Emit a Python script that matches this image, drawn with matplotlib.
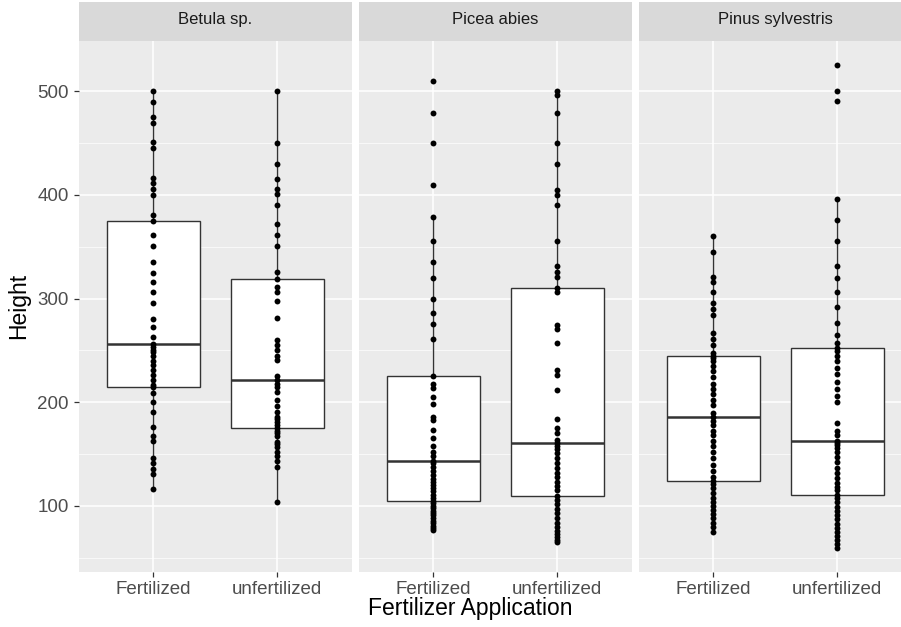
import numpy as np
import matplotlib
matplotlib.use("Agg")
import matplotlib.pyplot as plt
from matplotlib.ticker import MultipleLocator

plt.rcParams["font.family"] = ["Liberation Sans", "DejaVu Sans"]

species = ["Betula sp.", "Picea abies", "Pinus sylvestris"]
treatments = ["Fertilized", "unfertilized"]

# heights, one list per species x treatment
betula_fert = [116, 131, 136, 141, 146, 163, 167, 176, 191, 200, 209, 215,
               217, 221, 226, 231, 236, 240, 245, 248, 250, 253, 256,
               263, 273, 280, 296, 306, 316, 325, 335, 351, 361, 375,
               380, 400, 406, 411, 416, 445, 451, 469, 475, 489, 500]
betula_unfert = [104, 138, 143, 148, 152, 157, 160, 162, 167, 170, 172, 175,
                 178, 181, 184, 186, 191, 196, 202, 210, 215, 218, 221,
                 225, 241, 245, 250, 255, 260, 281, 298, 306, 311, 319,
                 326, 351, 361, 372, 390, 401, 406, 415, 430, 450, 500]
picea_fert = [77, 79, 81, 84, 86, 88, 91, 93, 95, 98, 100, 103, 105,
              108, 111, 114, 117, 120, 123, 126, 130, 134, 138, 141, 143,
              148, 152, 158, 166, 173, 183, 186, 198, 205, 214, 218, 225,
              261, 275, 286, 300, 320, 335, 355, 379, 409, 450, 479, 510]
picea_unfert = [65, 67, 70, 73, 76, 80, 84, 88, 93, 97, 102, 106, 110,
                115, 119, 123, 128, 132, 137, 141, 146, 151, 155, 158, 161,
                164, 170, 175, 184, 212, 226, 231, 257, 271, 274, 306, 310,
                321, 326, 331, 355, 390, 400, 405, 430, 450, 479, 496, 500]
pinus_fert = [75, 80, 84, 88, 92, 96, 100, 104, 108, 113, 117, 121, 124,
              128, 134, 140, 146, 152, 158, 163, 168, 172, 178, 182, 186,
              190, 197, 202, 208, 213, 218, 224, 230, 235, 240, 243, 245,
              247, 255, 261, 267, 284, 290, 296, 306, 316, 321, 345, 360]
pinus_unfert = [60, 63, 67, 71, 75, 79, 83, 87, 91, 95, 99, 104, 108, 111,
                115, 118, 122, 127, 132, 137, 142, 147, 152, 156, 159, 161, 163,
                168, 172, 180, 200, 206, 213, 220, 227, 233, 240, 245, 249, 252,
                257, 265, 276, 292, 306, 320, 331, 355, 376, 396, 490, 500, 525]

groups = {
    "Betula sp.": [betula_fert, betula_unfert],
    "Picea abies": [picea_fert, picea_unfert],
    "Pinus sylvestris": [pinus_fert, pinus_unfert],
}

W, H = 901, 627
fig = plt.figure(figsize=(W / 100, H / 100), dpi=100)

# shared y range with ggplot-style 5% expansion
all_vals = np.concatenate([np.concatenate(v) for v in groups.values()])
lo, hi = all_vals.min(), all_vals.max()
pad = 0.05 * (hi - lo)
ylim = (lo - pad, hi + pad)

px_per_unit = 1.0375  # vertical pixels per height unit
top_px = 91 - (ylim[1] - 500) * px_per_unit
bot_px = 91 + (500 - ylim[0]) * px_per_unit
panel_w = 273
gap = 7
left0 = 78.6
strip_h = 39

grey_edge = "#333333"
for i, sp in enumerate(species):
    left = left0 + i * (panel_w + gap)
    ax = fig.add_axes([left / W, 1 - bot_px / H, panel_w / W, (bot_px - top_px) / H])
    ax.set_facecolor("#EBEBEB")
    data = groups[sp]
    ax.boxplot(data, positions=[1, 2], widths=0.75, showfliers=False, showcaps=False,
               patch_artist=True,
               boxprops=dict(facecolor="white", edgecolor=grey_edge, linewidth=1.0),
               medianprops=dict(color=grey_edge, linewidth=1.8),
               whiskerprops=dict(color=grey_edge, linewidth=1.0))
    for pos, vals in zip([1, 2], data):
        ax.scatter(np.full(len(vals), pos), vals, s=18, color="black", zorder=4, linewidths=0)
    ax.set_xlim(0.4, 2.6)
    ax.set_ylim(*ylim)
    ax.set_xticks([1, 2])
    ax.set_xticklabels(treatments)
    ax.yaxis.set_major_locator(MultipleLocator(100))
    ax.yaxis.set_minor_locator(MultipleLocator(50))
    ax.grid(which="major", color="white", linewidth=1.1)
    ax.grid(which="minor", axis="y", color="white", linewidth=0.5)
    ax.set_axisbelow(True)
    for s in ax.spines.values():
        s.set_visible(False)
    ax.tick_params(axis="both", which="major", colors="#333333", length=3.5, width=0.9,
                   labelsize=13.5, labelcolor="#4D4D4D")
    ax.tick_params(axis="y", which="minor", length=0)
    if i > 0:
        ax.tick_params(axis="y", which="both", left=False, labelleft=False)
    else:
        ax.set_ylabel("Height", fontsize=16.5, color="black", labelpad=5)
    # facet strip
    sax = fig.add_axes([left / W, 1 - top_px / H, panel_w / W, strip_h / H])
    sax.set_facecolor("#D9D9D9")
    sax.set_xticks([])
    sax.set_yticks([])
    for s in sax.spines.values():
        s.set_visible(False)
    sax.text(0.5, 0.55, sp, ha="center", va="center", fontsize=12, color="#1A1A1A",
             transform=sax.transAxes)

fig.text(470 / W, 1 - 608 / H, "Fertilizer Application",
         ha="center", va="center", fontsize=16.5, color="black")

fig.savefig("out.png", dpi=100, facecolor="white")
